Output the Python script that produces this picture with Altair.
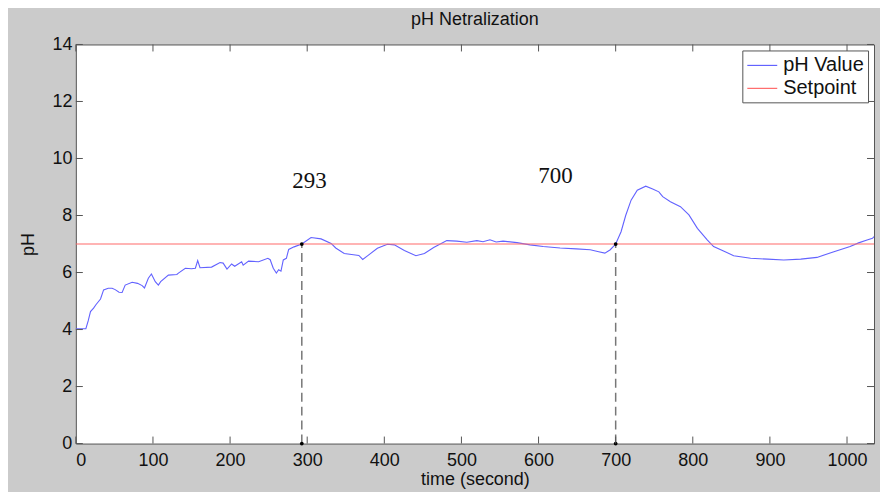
import altair as alt
import pandas as pd

time_s = [0, 13, 16, 19, 23, 26, 32, 36, 42, 47, 51, 56, 60, 64, 73, 80, 86, 89, 94, 98,
          103, 107, 110, 120, 131, 133, 142, 150, 155, 158, 161, 176, 187, 191, 196, 202,
          206, 215, 217, 224, 237, 249, 252, 256, 260, 263, 266, 269, 273, 276, 283, 293,
          305, 318, 331, 337, 348, 367, 372, 379, 391, 404, 413, 426, 441, 452, 464, 481,
          494, 507, 520, 528, 537, 545, 554, 572, 589, 606, 628, 649, 667, 678, 686, 693,
          700, 707, 713, 720, 728, 739, 748, 756, 761, 771, 784, 795, 806, 819, 827, 842,
          853, 875, 897, 918, 940, 961, 983, 1004, 1015, 1026, 1033, 1035]
ph_value = [4.03, 4.03, 4.30, 4.63, 4.75, 4.87, 5.07, 5.39, 5.45, 5.45, 5.40, 5.31, 5.30, 5.56,
            5.66, 5.62, 5.54, 5.46, 5.80, 5.95, 5.68, 5.56, 5.68, 5.91, 5.93, 5.98, 6.15, 6.13,
            6.15, 6.42, 6.17, 6.19, 6.35, 6.33, 6.12, 6.30, 6.22, 6.38, 6.26, 6.40, 6.38, 6.50,
            6.45, 6.15, 5.98, 6.10, 6.05, 6.44, 6.50, 6.81, 6.90, 7.00, 7.23, 7.18, 7.02, 6.86,
            6.67, 6.60, 6.46, 6.60, 6.85, 6.99, 6.97, 6.77, 6.59, 6.67, 6.88, 7.12, 7.10, 7.06,
            7.12, 7.08, 7.15, 7.07, 7.10, 7.05, 6.97, 6.91, 6.86, 6.83, 6.80, 6.73, 6.68, 6.80,
            7.00, 7.43, 8.00, 8.54, 8.89, 9.03, 8.93, 8.83, 8.66, 8.48, 8.31, 8.02, 7.55, 7.14,
            6.91, 6.73, 6.59, 6.50, 6.47, 6.44, 6.47, 6.53, 6.73, 6.91, 7.04, 7.14, 7.20, 7.26]
setpoint_time = [0, 1035]
setpoint_value = [7, 7]
mark_times = [293, 700]
mark_labels = ["293", "700"]
label_x = [303, 622]
label_y = [9.2, 9.4]
x_ticks = [0, 100, 200, 300, 400, 500, 600, 700, 800, 900, 1000]
y_ticks = [0, 2, 4, 6, 8, 10, 12, 14]

BLUE = "#6262ff"
RED = "#ff6a6a"
FONT = "Liberation Sans"

lines_df = pd.concat([
    pd.DataFrame({"t": time_s, "v": ph_value, "series": "pH Value"}),
    pd.DataFrame({"t": setpoint_time, "v": setpoint_value, "series": "Setpoint"}),
])
marks_df = pd.DataFrame({"t": mark_times, "y0": [0, 0], "y1": [7, 7]})
dots_df = pd.DataFrame({"t": mark_times * 2, "v": [7, 7, 0, 0]})
text_df = pd.DataFrame({"t": label_x, "v": label_y, "label": mark_labels})
xt_df = pd.DataFrame({"t": x_ticks})
yt_df = pd.DataFrame({"v": y_ticks})

xscale = alt.Scale(domain=[0, 1035], nice=False, zero=False)
yscale = alt.Scale(domain=[0, 14], nice=False)

xaxis = alt.Axis(values=x_ticks, format="d", title="time (second)", labelPadding=8, titlePadding=1)
yaxis = alt.Axis(values=y_ticks, title="pH", labelPadding=4, titlePadding=14)

lines = alt.Chart(lines_df).mark_line(strokeWidth=1.1).encode(
    x=alt.X("t:Q", scale=xscale, axis=xaxis),
    y=alt.Y("v:Q", scale=yscale, axis=yaxis),
    color=alt.Color("series:N",
                    scale=alt.Scale(domain=["pH Value", "Setpoint"], range=[BLUE, RED]),
                    legend=alt.Legend(title=None, orient="top-right", offset=6,
                                      symbolType="M-1.5,0H1.5", symbolSize=400,
                                      symbolStrokeWidth=1.2, symbolOffset=5,
                                      labelFont=FONT, labelFontSize=20, labelColor="#111",
                                      fillColor="white", strokeColor="#555",
                                      padding=4, rowPadding=2, labelOffset=10)),
    detail="series:N",
    order="t:Q",
)

dashed = alt.Chart(marks_df).mark_rule(color="#777777", strokeDash=[9, 5], strokeWidth=1.5).encode(
    x=alt.X("t:Q", scale=xscale), y=alt.Y("y0:Q", scale=yscale), y2="y1:Q")

dots = alt.Chart(dots_df).mark_circle(color="black", size=14, opacity=1).encode(
    x=alt.X("t:Q", scale=xscale), y=alt.Y("v:Q", scale=yscale))

texts = alt.Chart(text_df).mark_text(font="Liberation Serif", fontSize=23, color="#111").encode(
    x=alt.X("t:Q", scale=xscale), y=alt.Y("v:Q", scale=yscale), text="label:N")

tick_style = dict(color="#555555", strokeWidth=1)
xt_bottom = alt.Chart(xt_df).mark_rule(**tick_style).encode(
    x=alt.X("t:Q", scale=xscale), y=alt.value(400), y2=alt.value(393))
xt_top = alt.Chart(xt_df).mark_rule(**tick_style).encode(
    x=alt.X("t:Q", scale=xscale), y=alt.value(0), y2=alt.value(7))
yt_left = alt.Chart(yt_df).mark_rule(**tick_style).encode(
    y=alt.Y("v:Q", scale=yscale), x=alt.value(0), x2=alt.value(7))
yt_right = alt.Chart(yt_df).mark_rule(**tick_style).encode(
    y=alt.Y("v:Q", scale=yscale), x=alt.value(800), x2=alt.value(793))

chart = alt.layer(lines, dashed, dots, texts, xt_bottom, xt_top, yt_left, yt_right).properties(
    width=800, height=400,
    title=alt.TitleParams("pH Netralization", font=FONT, fontSize=18, fontWeight="normal",
                          color="#111", anchor="middle", offset=7),
    background="#cbcbcb",
    autosize=alt.AutoSizeParams(type="none"),
    padding={"left": 68, "top": 36, "right": 6, "bottom": 48},
).configure_view(
    fill="white", stroke="#555555", strokeWidth=1,
).configure_axis(
    grid=False, domain=False, ticks=False,
    labelFont=FONT, labelFontSize=18, labelColor="#111",
    titleFont=FONT, titleFontSize=18, titleFontWeight="normal", titleColor="#111",
)

chart.save("out.html", embed_options={"renderer": "svg", "actions": False})
